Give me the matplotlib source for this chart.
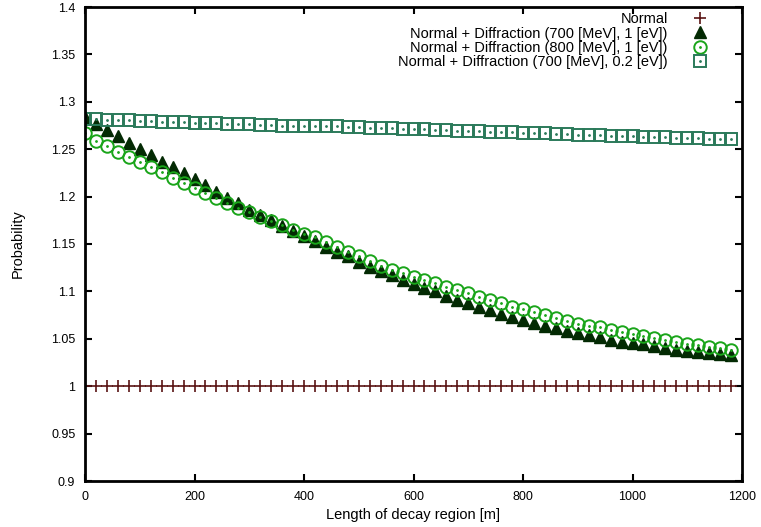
import matplotlib
matplotlib.use("Agg")
import matplotlib.pyplot as plt

plt.rcParams['font.family'] = ['Liberation Sans', 'DejaVu Sans']

# decay region length [m]
length = [i * 20 for i in range(60)]

normal = [1.0] * 60

diff_700_1 = [
    1.284, 1.277, 1.270, 1.264, 1.257, 1.250, 1.244, 1.237, 1.231, 1.225,
    1.219, 1.212, 1.205, 1.199, 1.193, 1.186, 1.181, 1.175, 1.169, 1.164,
    1.158, 1.153, 1.147, 1.142, 1.137, 1.131, 1.126, 1.121, 1.117, 1.112,
    1.108, 1.104, 1.100, 1.095, 1.091, 1.088, 1.084, 1.080, 1.076, 1.073,
    1.070, 1.067, 1.064, 1.061, 1.058, 1.056, 1.054, 1.052, 1.049, 1.047,
    1.046, 1.044, 1.042, 1.040, 1.038, 1.037, 1.036, 1.035, 1.034, 1.033,
]

diff_800_1 = [
    1.267, 1.259, 1.253, 1.247, 1.242, 1.236, 1.231, 1.226, 1.220, 1.214,
    1.209, 1.204, 1.199, 1.193, 1.188, 1.184, 1.179, 1.174, 1.170, 1.165,
    1.161, 1.157, 1.152, 1.147, 1.142, 1.137, 1.132, 1.127, 1.123, 1.119,
    1.115, 1.112, 1.109, 1.105, 1.102, 1.098, 1.094, 1.091, 1.088, 1.084,
    1.081, 1.078, 1.075, 1.072, 1.069, 1.066, 1.064, 1.062, 1.059, 1.057,
    1.055, 1.053, 1.051, 1.049, 1.047, 1.045, 1.043, 1.041, 1.040, 1.038,
]

diff_700_02 = [
    1.282, 1.282, 1.281, 1.281, 1.281, 1.280, 1.280, 1.279, 1.279, 1.279,
    1.278, 1.278, 1.278, 1.277, 1.277, 1.277, 1.276, 1.276, 1.275, 1.275,
    1.275, 1.274, 1.274, 1.274, 1.273, 1.273, 1.272, 1.272, 1.272, 1.271,
    1.271, 1.271, 1.270, 1.270, 1.269, 1.269, 1.269, 1.268, 1.268, 1.268,
    1.267, 1.267, 1.267, 1.266, 1.266, 1.265, 1.265, 1.265, 1.264, 1.264,
    1.264, 1.263, 1.263, 1.263, 1.262, 1.262, 1.262, 1.261, 1.261, 1.261,
]

labels = [
    "Normal",
    "Normal + Diffraction (700 [MeV], 1 [eV])",
    "Normal + Diffraction (800 [MeV], 1 [eV])",
    "Normal + Diffraction (700 [MeV], 0.2 [eV])",
]

c_normal = '#5a1414'
c_tri = '#032a03'
c_circ = '#1aa51a'
c_sq = '#2b7a5a'

fig = plt.figure(figsize=(7.61, 5.27), dpi=100)
ax = fig.add_axes([85 / 761, 1 - 481 / 527, (742 - 85) / 761, (481 - 7) / 527])

h1, = ax.plot(length, normal, ls='none', marker='+', ms=9, mew=1.2, color=c_normal)
h2, = ax.plot(length, diff_700_1, ls='none', marker='^', ms=9, color=c_tri, mec=c_tri)
h3a, = ax.plot(length, diff_800_1, ls='none', marker='o', ms=9, mfc='none', mew=1.4, mec=c_circ)
h3b, = ax.plot(length, diff_800_1, ls='none', marker='.', ms=2, color=c_circ)
h4a, = ax.plot(length, diff_700_02, ls='none', marker='s', ms=8.5, mfc='none', mew=1.4, mec=c_sq)
h4b, = ax.plot(length, diff_700_02, ls='none', marker='.', ms=2, color=c_sq)

ax.set_xlim(0, 1200)
ax.set_ylim(0.9, 1.4)
ax.set_xticks(range(0, 1201, 200))
ax.set_yticks([0.9 + 0.05 * i for i in range(11)])
ax.set_yticklabels(['0.9', '0.95', '1', '1.05', '1.1', '1.15', '1.2', '1.25', '1.3', '1.35', '1.4'])
ax.tick_params(direction='in', length=5, width=1.5, top=True, right=True, labelsize=9, pad=7)
for sp in ax.spines.values():
    sp.set_linewidth(2)

ax.set_xlabel('Length of decay region [m]', fontsize=10.5, labelpad=4)
ax.set_ylabel('Probability', fontsize=10.5, labelpad=19)

ax.legend([h1, h2, (h3a, h3b), (h4a, h4b)], labels, loc='upper right',
          bbox_to_anchor=(0.947, 0.989), frameon=False, markerfirst=False,
          fontsize=10.5, labelspacing=0.02, handlelength=1.0, handletextpad=1.7,
          borderaxespad=0, borderpad=0)

fig.savefig('out.png', dpi=100)
